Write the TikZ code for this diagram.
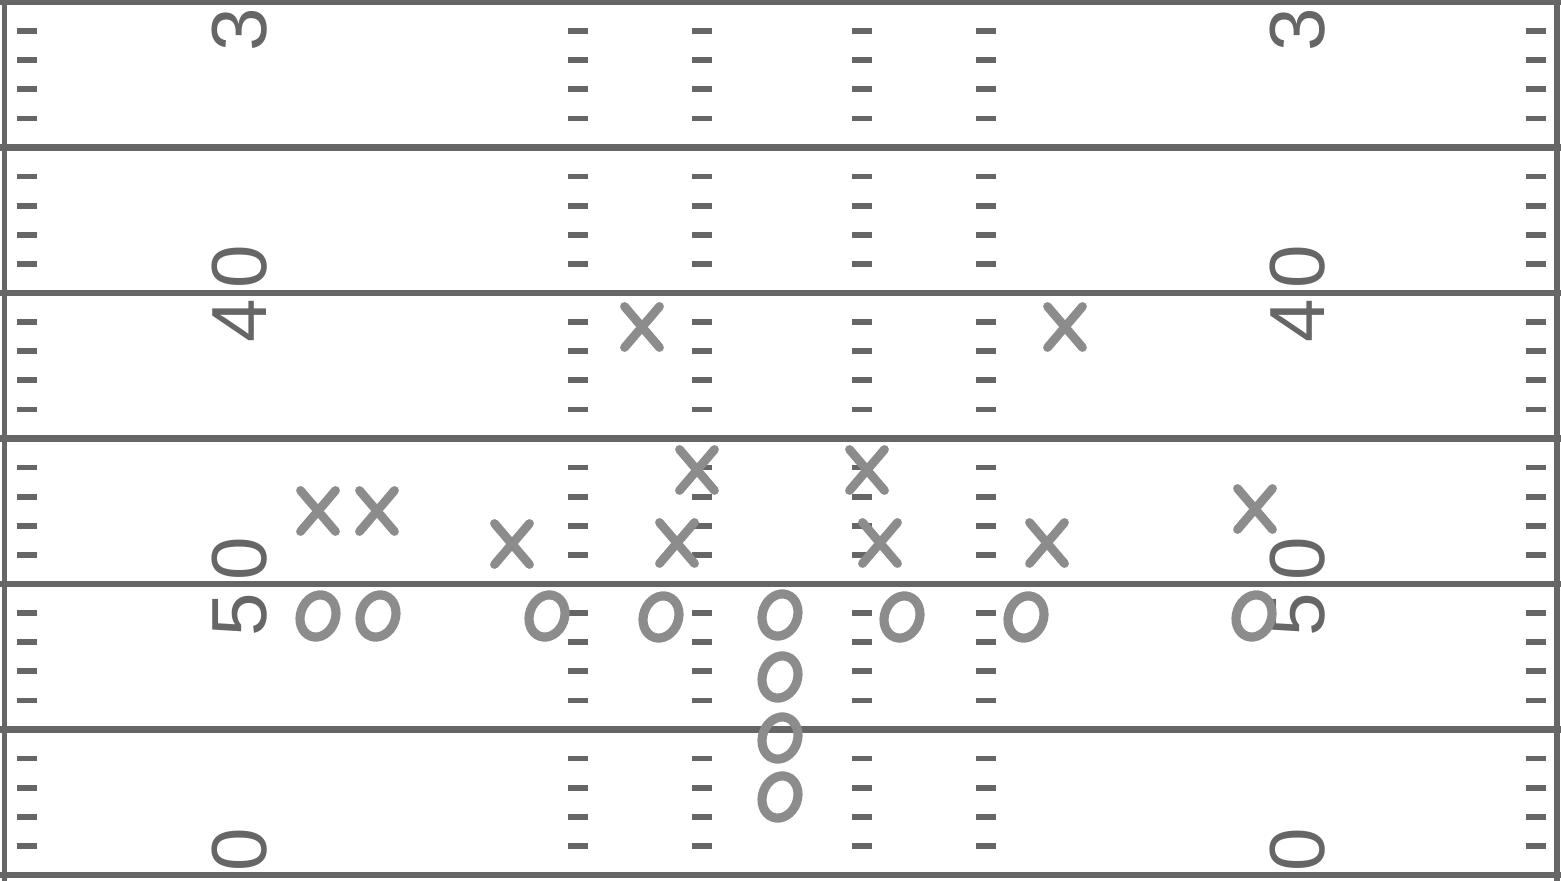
\documentclass[tikz,border=0pt]{standalone}
\usepackage{fontspec}
\setmainfont{Liberation Sans}
\usepackage{xcolor}
\definecolor{field_gray}{RGB}{102,102,102}
\definecolor{player_gray}{RGB}{140,140,140}
\usetikzlibrary{shapes.misc,shapes.geometric}

\begin{document}
\begin{tikzpicture}[x=0.02cm, y=-0.02cm,
  yardline/.style={line width=3.8pt, draw=field_gray},
  hashmark/.style={line width=3.2pt, draw=field_gray},
  yardnum/.style={rotate=90, text=field_gray, inner sep=0pt, font=\fontsize{44.5}{44.5}\selectfont},
  xman/.style={cross out, draw=player_gray, line width=5pt, line cap=round, inner sep=0pt, outer sep=0pt, minimum width=0.7cm, minimum height=0.82cm},
  oman/.style={ellipse, draw=player_gray, line width=5.2pt, inner sep=0pt, outer sep=0pt, minimum width=0.7cm, minimum height=0.86cm, rotate=-20}]
\useasboundingbox (0, 0) rectangle (1561, 881);
\clip (0, 0) rectangle (1561, 881);

\foreach \x in {27, 578, 702, 862, 986, 1536}
  \foreach \k in {0,...,30}
    \draw [hashmark] (\x-10, 2+\k*29.1) -- (\x+10, 2+\k*29.1);

\foreach \y in {2, 147.5, 293, 438.5, 584, 729.5, 875}
  \draw [yardline] (0, \y) -- (1561, \y);
\draw [yardline, line width=3.2pt] (4.5, 0) -- (4.5, 881);
\draw [yardline, line width=3.2pt] (1557, 0) -- (1557, 881);

\draw (240, 30) node [yardnum] (l3) {3};
\draw (240, 267) node [yardnum] (l0a) {0};
\draw (240, 321) node [yardnum] (l4) {4};
\draw (240, 559) node [yardnum] (l0b) {0};
\draw (240, 615) node [yardnum] (l5) {5};
\draw (240, 850) node [yardnum] (l0c) {0};

\draw (1298, 30) node [yardnum] (r3) {3};
\draw (1298, 267) node [yardnum] (r0a) {0};
\draw (1298, 321) node [yardnum] (r4) {4};
\draw (1298, 559) node [yardnum] (r0b) {0};
\draw (1298, 615) node [yardnum] (r5) {5};
\draw (1298, 850) node [yardnum] (r0c) {0};

\foreach \p [count=\i] in {(642,327), (1065,327), (697,470), (867,470), (318,511), (377,511), (512,544), (677,543), (880,543), (1047,543), (1255,509)}
  \node [xman] (x\i) at \p {};

\foreach \p [count=\i] in {(318,616), (378,616), (547,616), (661,617), (780,615), (902,617), (1026,617), (1254,616), (780,677), (780,738), (780,797)}
  \node [oman] (o\i) at \p {};

\end{tikzpicture}
\end{document}
